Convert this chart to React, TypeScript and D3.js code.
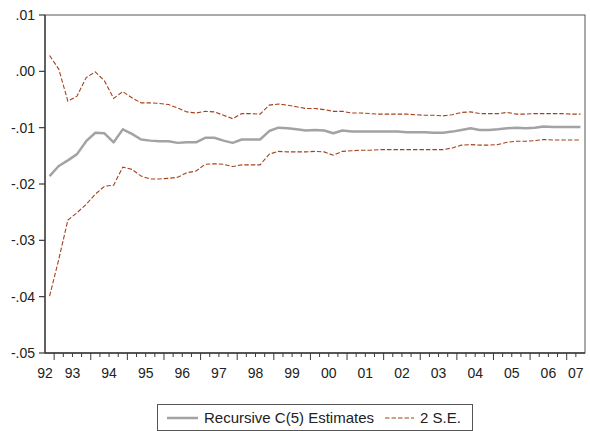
import React from "react";
import * as d3 from "d3";

// quarterly sample, 1992Q4 - 2007Q2
const periods = [
  "1992Q4",
  "1993Q1", "1993Q2", "1993Q3", "1993Q4",
  "1994Q1", "1994Q2", "1994Q3", "1994Q4",
  "1995Q1", "1995Q2", "1995Q3", "1995Q4",
  "1996Q1", "1996Q2", "1996Q3", "1996Q4",
  "1997Q1", "1997Q2", "1997Q3", "1997Q4",
  "1998Q1", "1998Q2", "1998Q3", "1998Q4",
  "1999Q1", "1999Q2", "1999Q3", "1999Q4",
  "2000Q1", "2000Q2", "2000Q3", "2000Q4",
  "2001Q1", "2001Q2", "2001Q3", "2001Q4",
  "2002Q1", "2002Q2", "2002Q3", "2002Q4",
  "2003Q1", "2003Q2", "2003Q3", "2003Q4",
  "2004Q1", "2004Q2", "2004Q3", "2004Q4",
  "2005Q1", "2005Q2", "2005Q3", "2005Q4",
  "2006Q1", "2006Q2", "2006Q3", "2006Q4",
  "2007Q1", "2007Q2",
];

const yearLabels = ["92", "93", "94", "95", "96", "97", "98", "99", "00", "01", "02", "03", "04", "05", "06", "07"];

const estimate = [
  -0.0186, -0.0168, -0.0158, -0.0147, -0.0124, -0.0109, -0.011, -0.0126, -0.0103, -0.0111,
  -0.0121, -0.0123, -0.0124, -0.0124, -0.0127, -0.0126, -0.0126, -0.0118, -0.0118, -0.0123,
  -0.0127, -0.0121, -0.0121, -0.0121, -0.0106, -0.01, -0.0101, -0.0103, -0.0105, -0.0104,
  -0.0105, -0.011, -0.0105, -0.0107, -0.0107, -0.0107, -0.0107, -0.0107, -0.0107, -0.0108,
  -0.0108, -0.0108, -0.0109, -0.0109, -0.0107, -0.0104, -0.0101, -0.0104, -0.0104, -0.0103,
  -0.0101, -0.01, -0.0101, -0.01, -0.0098, -0.0099, -0.0099, -0.0099, -0.0099,
];

const upperBand = [
  0.0028, 0.0004, -0.0053, -0.0044, -0.0011, -0.0001, -0.0017, -0.0048, -0.0036, -0.0047,
  -0.0056, -0.0056, -0.0057, -0.0059, -0.0065, -0.0072, -0.0074, -0.0071, -0.0072, -0.0078,
  -0.0084, -0.0075, -0.0075, -0.0076, -0.006, -0.0058, -0.006, -0.0063, -0.0066, -0.0066,
  -0.0068, -0.0071, -0.0071, -0.0074, -0.0074, -0.0075, -0.0076, -0.0076, -0.0076, -0.0076,
  -0.0077, -0.0078, -0.0078, -0.0079, -0.0077, -0.0073, -0.0072, -0.0075, -0.0075, -0.0075,
  -0.0073, -0.0076, -0.0076, -0.0075, -0.0075, -0.0075, -0.0075, -0.0076, -0.0076,
];

const lowerBand = [
  -0.0399, -0.0334, -0.0264, -0.0251, -0.0236, -0.0218, -0.0204, -0.0202, -0.017, -0.0174,
  -0.0186, -0.0191, -0.0191, -0.019, -0.0188, -0.018, -0.0177, -0.0165, -0.0164, -0.0165,
  -0.0169, -0.0166, -0.0166, -0.0166, -0.0147, -0.0142, -0.0143, -0.0143, -0.0143, -0.0142,
  -0.0143, -0.0149, -0.0142, -0.0141, -0.014, -0.014, -0.0139, -0.0139, -0.0139, -0.0139,
  -0.0139, -0.0139, -0.0139, -0.0139, -0.0136, -0.0131, -0.013, -0.0131, -0.0131, -0.013,
  -0.0126, -0.0124, -0.0124, -0.0123, -0.0121, -0.0122, -0.0122, -0.0122, -0.0122,
];

const yTicks = [0.01, 0, -0.01, -0.02, -0.03, -0.04, -0.05];
const yTickLabels = [".01", ".00", "-.01", "-.02", "-.03", "-.04", "-.05"];
const legendLabels = ["Recursive C(5) Estimates", "2 S.E."];

const W = 590;
const H = 431;
const margin = { top: 15, right: 5, bottom: 78, left: 45 };
const font = "'Liberation Sans', Arial, sans-serif";
const grayLine = "#a3a3a3";
const seColor = "#a4421c";
const axisColor = "#3a3a3a";

export default function App() {
  const x = d3.scaleBand<string>().domain(periods).range([margin.left, W - margin.right]).padding(0);
  const y = d3.scaleLinear().domain([-0.05, 0.01]).range([H - margin.bottom, margin.top]);
  const bw = x.bandwidth();
  const cx = (i: number) => (x(periods[i]) as number) + bw / 2;

  const line = d3
    .line<number>()
    .x((_, i) => cx(i))
    .y((d) => y(d));

  const x0 = margin.left;
  const x1 = W - margin.right;
  const y0 = H - margin.bottom;
  const y1 = margin.top;

  // year label positions from the bands belonging to each year
  const yearPos = yearLabels.map((lab, k) => {
    const ps = periods.filter((p) => p.slice(2, 4) === lab);
    const a = x(ps[0]) as number;
    const b = (x(ps[ps.length - 1]) as number) + bw;
    return k === 0 && ps.length < 4 ? a : (a + b) / 2;
  });

  const legY = 418;

  return (
    <svg width={W} height={H} style={{ position: "absolute", left: 0, top: 0, background: "#fff" }}>
      <rect x={0} y={0} width={W} height={H} fill="#fff" />
      {/* frame */}
      <rect x={x0} y={y1} width={x1 - x0} height={y0 - y1} fill="none" stroke="#555" strokeWidth={1} />
      <line x1={x0} x2={x0} y1={y1} y2={y0} stroke={axisColor} strokeWidth={1.3} />
      <line x1={x0} x2={x1} y1={y0} y2={y0} stroke={axisColor} strokeWidth={1.3} />

      {/* y axis */}
      {yTicks.map((t, i) => (
        <g key={"y" + i}>
          <line x1={x0 - 6} x2={x0} y1={y(t)} y2={y(t)} stroke={axisColor} strokeWidth={1.2} />
          <text x={x0 - 10} y={y(t)} dy="0.35em" textAnchor="end" fontFamily={font} fontSize={14} fill="#222">
            {yTickLabels[i]}
          </text>
        </g>
      ))}

      {/* x axis: quarterly ticks, long at year starts */}
      {periods.map((p, i) =>
        i === 0 ? null : (
          <line
            key={"xt" + i}
            x1={x(p)}
            x2={x(p)}
            y1={y0}
            y2={y0 + (p.endsWith("Q1") ? 7 : 4)}
            stroke={axisColor}
            strokeWidth={1}
          />
        )
      )}
      {yearLabels.map((lab, k) => (
        <text key={"xl" + k} x={yearPos[k]} y={y0 + 25} textAnchor="middle" fontFamily={font} fontSize={14} fill="#222">
          {lab}
        </text>
      ))}

      {/* series */}
      <path d={line(upperBand) || ""} fill="none" stroke={seColor} strokeWidth={1.1} strokeDasharray="4.5,2" />
      <path d={line(lowerBand) || ""} fill="none" stroke={seColor} strokeWidth={1.1} strokeDasharray="4.5,2" />
      <path d={line(estimate) || ""} fill="none" stroke={grayLine} strokeWidth={2.5} strokeLinejoin="round" />

      {/* legend */}
      <rect x={157.5} y={404.5} width={315} height={26} fill="#fff" stroke="#555" strokeWidth={1} />
      <line x1={167} x2={198} y1={legY} y2={legY} stroke={grayLine} strokeWidth={2.5} />
      <text x={204} y={legY} dy="0.35em" fontFamily={font} fontSize={15} fill="#222">
        {legendLabels[0]}
      </text>
      <line x1={385} x2={414} y1={legY} y2={legY} stroke={seColor} strokeWidth={1.1} strokeDasharray="4.5,2" />
      <text x={420} y={legY} dy="0.35em" fontFamily={font} fontSize={15} fill="#222">
        {legendLabels[1]}
      </text>
    </svg>
  );
}
